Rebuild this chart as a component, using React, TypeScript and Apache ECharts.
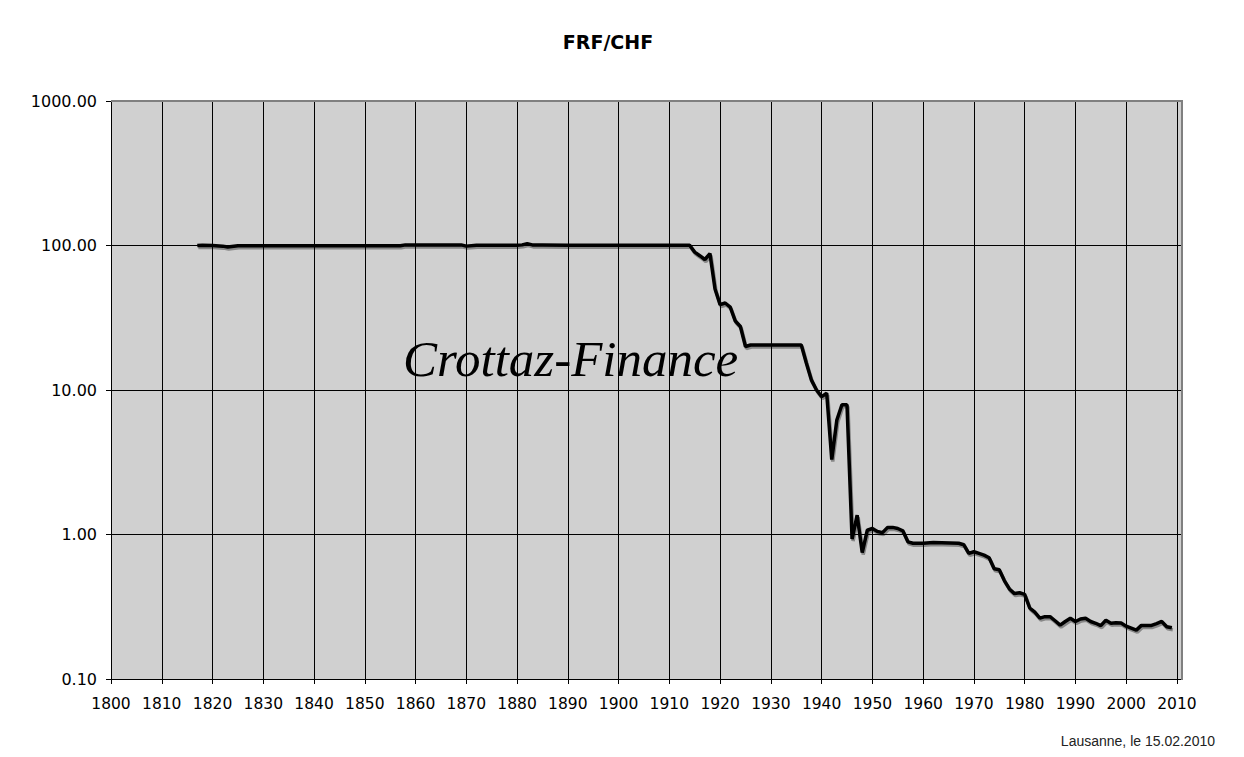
import React, { useEffect, useRef } from "react";
import * as echarts from "echarts";

const title = "FRF/CHF";
const watermark = "Crottaz-Finance";
const footnote = "Lausanne, le 15.02.2010";

const years = [
  1817, 1818, 1820, 1822, 1823, 1825, 1830, 1840, 1850, 1857, 1858, 1865, 1869, 1870, 1872, 1880, 1881, 1882, 1883,
  1885, 1890, 1900, 1910, 1914, 1915, 1916, 1917, 1918, 1919, 1920, 1921, 1922, 1923, 1924, 1925, 1926, 1936, 1937,
  1938, 1939, 1940, 1941, 1942, 1943, 1944, 1945, 1946, 1947, 1948, 1949, 1950, 1951, 1952, 1953, 1954, 1955, 1956,
  1957, 1958, 1960, 1962, 1967, 1968, 1969, 1970, 1971, 1972, 1973, 1974, 1975, 1976, 1977, 1978, 1979, 1980, 1981,
  1982, 1983, 1984, 1985, 1986, 1987, 1988, 1989, 1990, 1991, 1992, 1993, 1994, 1995, 1996, 1997, 1998, 1999, 2000,
  2001, 2002, 2003, 2004, 2005, 2006, 2007, 2008, 2009,
];
const rates = [
  100, 100.5, 100, 99, 97.5, 99.5, 99.5, 99.5, 99.5, 99.5, 101, 101, 101, 99, 100.5, 100.5, 101, 103, 101,
  101, 100.5, 100.5, 100.5, 100.5, 90, 85, 80, 88, 50, 39, 40, 37.5, 30, 27.5, 20, 20.5, 20.5, 15.3,
  11.7, 10, 9, 9.5, 3.3, 6.2, 7.9, 7.9, 0.93, 1.36, 0.75, 1.07, 1.1, 1.05, 1.03, 1.12, 1.12, 1.1, 1.06,
  0.89, 0.87, 0.87, 0.88, 0.87, 0.85, 0.74, 0.76, 0.74, 0.72, 0.69, 0.58, 0.57, 0.48, 0.42, 0.39, 0.395, 0.385, 0.31,
  0.29, 0.264, 0.27, 0.27, 0.253, 0.236, 0.25, 0.263, 0.25, 0.26, 0.263, 0.25, 0.243, 0.234, 0.255, 0.243, 0.245, 0.244, 0.232,
  0.225, 0.218, 0.235, 0.235, 0.235, 0.242, 0.25, 0.23, 0.226,
];
const xTicks = [1800, 1810, 1820, 1830, 1840, 1850, 1860, 1870, 1880, 1890, 1900, 1910, 1920, 1930, 1940, 1950, 1960, 1970, 1980, 1990, 2000, 2010];

export default function App() {
  const ref = useRef<HTMLDivElement>(null);
  useEffect(() => {
    if (!ref.current) return;
    const chart = echarts.init(ref.current, null, { renderer: "svg" });
    const data = years.map((y, i) => [y, rates[i]]);
    chart.setOption({
      animation: false,
      backgroundColor: "#ffffff",
      title: {
        text: title,
        left: 603,
        top: 27,
        textAlign: "center",
        textStyle: { fontFamily: "DejaVu Sans", fontSize: 19, fontWeight: "bold", color: "#000" },
      },
      grid: {
        left: 111,
        top: 101,
        right: 62,
        bottom: 78,
        show: true,
        backgroundColor: "#d0d0d0",
        borderWidth: 0,
      },
      xAxis: {
        type: "value",
        min: 1800,
        max: 2011,
        interval: 10,
        axisLine: { show: true, lineStyle: { color: "#000", width: 1 } },
        axisTick: { show: true, length: 5, customValues: xTicks, lineStyle: { color: "#000" } },
        axisLabel: {
          customValues: xTicks,
          margin: 17,
          fontFamily: "DejaVu Sans",
          fontSize: 15.5,
          color: "#000",
          formatter: (v: number) => String(v),
        },
        splitLine: { show: true, lineStyle: { color: "#000", width: 1 } },
      },
      yAxis: {
        type: "log",
        logBase: 10,
        min: 0.1,
        max: 1000,
        axisLine: { show: true, lineStyle: { color: "#000", width: 1 } },
        axisTick: { show: true, length: 5, lineStyle: { color: "#000" } },
        axisLabel: {
          margin: 14,
          fontFamily: "DejaVu Sans",
          fontSize: 16,
          color: "#000",
          formatter: (v: number) => v.toFixed(2),
        },
        splitLine: { show: true, lineStyle: { color: "#000", width: 1 } },
      },
      graphic: [
        {
          type: "line",
          shape: { x1: 111, y1: 101, x2: 1183, y2: 101 },
          style: { stroke: "#808080", lineWidth: 2 },
          z: 100,
        },
        {
          type: "line",
          shape: { x1: 1182, y1: 101, x2: 1182, y2: 680 },
          style: { stroke: "#808080", lineWidth: 2 },
          z: 100,
        },
        {
          type: "text",
          x: 403,
          y: 333,
          style: {
            text: watermark,
            fontFamily: "Liberation Serif",
            fontStyle: "italic",
            fontSize: 51,
            fill: "#000",
          },
          z: 50,
        },
        {
          type: "text",
          x: 1215,
          y: 734,
          style: {
            text: footnote,
            textAlign: "right",
            fontFamily: "Liberation Sans",
            fontSize: 14,
            fill: "#222",
          },
        },
      ],
      series: [
        {
          type: "line",
          data,
          showSymbol: false,
          z: 60,
          lineStyle: {
            color: "#000",
            width: 3.5,
            shadowColor: "rgba(0,0,0,0.35)",
            shadowBlur: 1,
            shadowOffsetX: 1,
            shadowOffsetY: 2,
          },
        },
      ],
    });
    return () => chart.dispose();
  }, []);
  return <div ref={ref} style={{ width: 1244, height: 757, margin: -8 }} />;
}
